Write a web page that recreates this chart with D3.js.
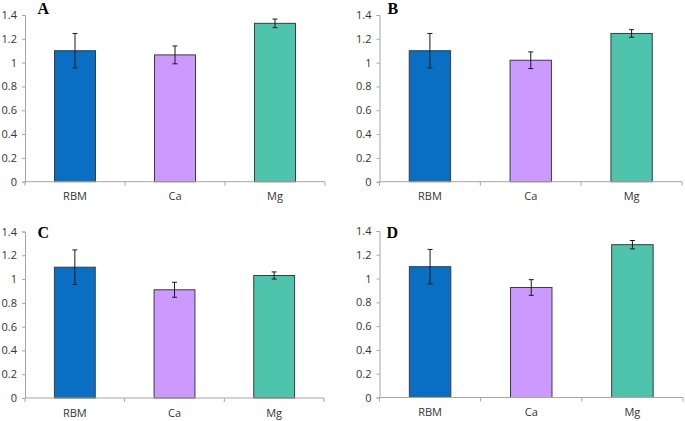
<!DOCTYPE html>
<html>
<head>
<meta charset="utf-8">
<script src="https://cdn.jsdelivr.net/npm/d3@7"></script>
<style>
  html, body { margin: 0; padding: 0; background: #fff; }
  svg { display: block; }
</style>
</head>
<body>
<svg id="chart" width="685" height="421"></svg>
<script>
// ---- data ----
const categories = ["RBM", "Ca", "Mg"];
const panelLabels = ["A", "B", "C", "D"];
const valuesA = [1.10, 1.065, 1.33];
const errorsA = [0.145, 0.075, 0.036];
const valuesB = [1.10, 1.02, 1.245];
const errorsB = [0.145, 0.07, 0.032];
const valuesC = [1.10, 0.91, 1.03];
const errorsC = [0.145, 0.063, 0.03];
const valuesD = [1.10, 0.925, 1.285];
const errorsD = [0.145, 0.066, 0.035];
const yTicks = [0, 0.2, 0.4, 0.6, 0.8, 1, 1.2, 1.4];
const yTickLabels = ["0", "0.2", "0.4", "0.6", "0.8", "1", "1.2", "1.4"];

// ---- layout / style ----
const colors = ["#0A6FC2", "#CC99FF", "#4DC4AB"];
const panels = [
  { label: panelLabels[0], values: valuesA, errors: errorsA, x0: 25,    x1: 325, yTop: 15,    yBot: 181.7, lx: 37.5, ly: 13.5 },
  { label: panelLabels[1], values: valuesB, errors: errorsB, x0: 379.5, x1: 682, yTop: 15,    yBot: 181.7, lx: 387.5, ly: 13.5 },
  { label: panelLabels[2], values: valuesC, errors: errorsC, x0: 25,    x1: 324, yTop: 231.5, yBot: 398,   lx: 37.5, ly: 238 },
  { label: panelLabels[3], values: valuesD, errors: errorsD, x0: 379.5, x1: 683, yTop: 231,   yBot: 397.5, lx: 386.5, ly: 238 }
];

const svg = d3.select("#chart");
const fontSans = "'Open Sans', 'Noto Sans', sans-serif";

panels.forEach(p => {
  const g = svg.append("g");
  const x = d3.scaleBand().domain(categories).range([p.x0, p.x1])
    .paddingInner(0.59).paddingOuter(0.295);
  const y = d3.scaleLinear().domain([0, 1.4]).range([p.yBot, p.yTop]);

  // y axis
  const yAxis = d3.axisLeft(y).tickValues(yTicks)
    .tickFormat((d, i) => yTickLabels[i]).tickSize(3).tickPadding(5);
  const ya = g.append("g").attr("transform", `translate(${p.x0},0)`).call(yAxis);
  ya.select(".domain").attr("stroke", "#a6a6a6");
  ya.selectAll(".tick line").attr("stroke", "#a6a6a6");
  ya.selectAll(".tick text").attr("fill", "#333")
    .style("font-family", fontSans).style("font-size", "11px");

  // bars
  g.selectAll("rect.bar").data(categories).enter().append("rect")
    .attr("class", "bar")
    .attr("x", d => x(d))
    .attr("width", x.bandwidth())
    .attr("y", (d, i) => y(p.values[i]))
    .attr("height", (d, i) => y(0) - y(p.values[i]))
    .attr("fill", (d, i) => colors[i])
    .attr("stroke", "#3c3c3c")
    .attr("stroke-width", 1);

  // x axis
  const bounds = [0, 1, 2, 3].map(k => p.x0 + k * (p.x1 - p.x0) / 3);
  g.append("line").attr("x1", p.x0).attr("x2", p.x1)
    .attr("y1", y(0)).attr("y2", y(0)).attr("stroke", "#a6a6a6");
  g.selectAll("line.xt").data(bounds).enter().append("line")
    .attr("class", "xt")
    .attr("x1", d => d).attr("x2", d => d)
    .attr("y1", y(0)).attr("y2", y(0) + 4).attr("stroke", "#a6a6a6");
  g.selectAll("text.xl").data(categories).enter().append("text")
    .attr("class", "xl")
    .attr("x", d => x(d) + x.bandwidth() / 2)
    .attr("y", y(0) + 18.5)
    .attr("text-anchor", "middle")
    .attr("fill", "#333")
    .style("font-family", fontSans).style("font-size", "11px")
    .text(d => d);

  // error bars
  const eb = g.selectAll("g.err").data(categories).enter().append("g").attr("class", "err");
  eb.append("line")
    .attr("x1", d => x(d) + x.bandwidth() / 2).attr("x2", d => x(d) + x.bandwidth() / 2)
    .attr("y1", (d, i) => y(p.values[i] + p.errors[i]))
    .attr("y2", (d, i) => y(p.values[i] - p.errors[i]))
    .attr("stroke", "#1a1a1a").attr("stroke-width", 1);
  [1, -1].forEach(s => {
    eb.append("line")
      .attr("x1", d => x(d) + x.bandwidth() / 2 - 2.5).attr("x2", d => x(d) + x.bandwidth() / 2 + 2.5)
      .attr("y1", (d, i) => y(p.values[i] + s * p.errors[i]))
      .attr("y2", (d, i) => y(p.values[i] + s * p.errors[i]))
      .attr("stroke", "#1a1a1a").attr("stroke-width", 1);
  });

  // panel label
  svg.append("text")
    .attr("x", p.lx).attr("y", p.ly)
    .attr("fill", "#000")
    .style("font-family", "'Liberation Serif', 'Times New Roman', serif")
    .style("font-weight", "bold").style("font-size", "16px")
    .text(p.label);
});
</script>
</body>
</html>
